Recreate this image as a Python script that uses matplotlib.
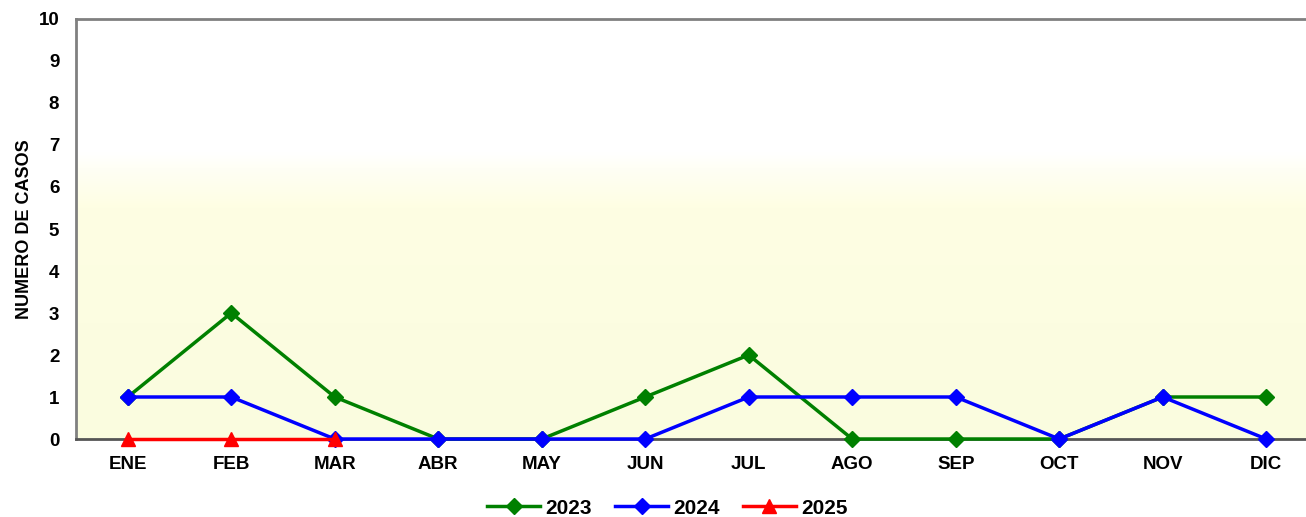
import matplotlib
matplotlib.use("Agg")
import matplotlib.pyplot as plt
import numpy as np
from matplotlib.colors import LinearSegmentedColormap

months = ["ENE", "FEB", "MAR", "ABR", "MAY", "JUN", "JUL", "AGO", "SEP", "OCT", "NOV", "DIC"]
s2023 = [1, 3, 1, 0, 0, 1, 2, 0, 0, 0, 1, 1]
s2024 = [1, 1, 0, 0, 0, 0, 1, 1, 1, 0, 1, 0]
s2025 = [0, 0, 0]
yticks = list(range(0, 11))

plt.rcParams['font.family'] = ['Liberation Sans', 'DejaVu Sans']
plt.rcParams['font.weight'] = 'bold'

fig = plt.figure(figsize=(13.06, 5.17), dpi=100)
ax = fig.add_axes([76/1306, 78/517, 1242/1306, (439-19)/517])

# background gradient
cmap = LinearSegmentedColormap.from_list("bg", [
    (0.0, "#FAFCDF"), (0.55, "#FEFEE3"), (0.64, "#FFFFF4"), (0.68, "#FFFFFF"), (1.0, "#FFFFFF")])
grad = np.linspace(0, 1, 256).reshape(-1, 1)
ax.imshow(grad, cmap=cmap, aspect='auto', origin='lower',
          extent=[-0.5, 11.5, 0, 10], zorder=0)

x = np.arange(len(months))
ax.plot(x, s2023, color="#008000", lw=2.5, marker='D', ms=8, label="2023", zorder=3, clip_on=False)
ax.plot(x, s2024, color="#0000FF", lw=2.5, marker='D', ms=8, label="2024", zorder=4, clip_on=False)
ax.plot(x[:len(s2025)], s2025, color="#FF0000", lw=2.5, marker='^', ms=10, label="2025", zorder=5, clip_on=False)

ax.set_xlim(-0.5, 11.5)
ax.set_ylim(0, 10)
ax.set_xticks(x)
ax.set_xticklabels(months, fontsize=13.5, fontweight='bold')
ax.set_yticks(yticks)
ax.set_yticklabels([str(v) for v in yticks], fontsize=13.5, fontweight='bold')
ax.tick_params(axis='x', length=0, pad=12)
ax.tick_params(axis='y', length=0, pad=12)
ax.set_ylabel("NUMERO DE CASOS", fontsize=13, fontweight='bold', labelpad=4)

ax.spines['right'].set_visible(False)
ax.spines['top'].set_color('#808080')
ax.spines['top'].set_linewidth(2)
ax.spines['left'].set_color('#808080')
ax.spines['left'].set_linewidth(2)
ax.spines['bottom'].set_color('#555555')
ax.spines['bottom'].set_linewidth(2)

leg = fig.legend(loc='center', bbox_to_anchor=(0.511, 0.017), ncol=3, frameon=False,
                 prop={'size': 15, 'weight': 'bold'}, handlelength=2.55, columnspacing=1.1,
                 handletextpad=0.25)

fig.savefig("out.png", dpi=100)
